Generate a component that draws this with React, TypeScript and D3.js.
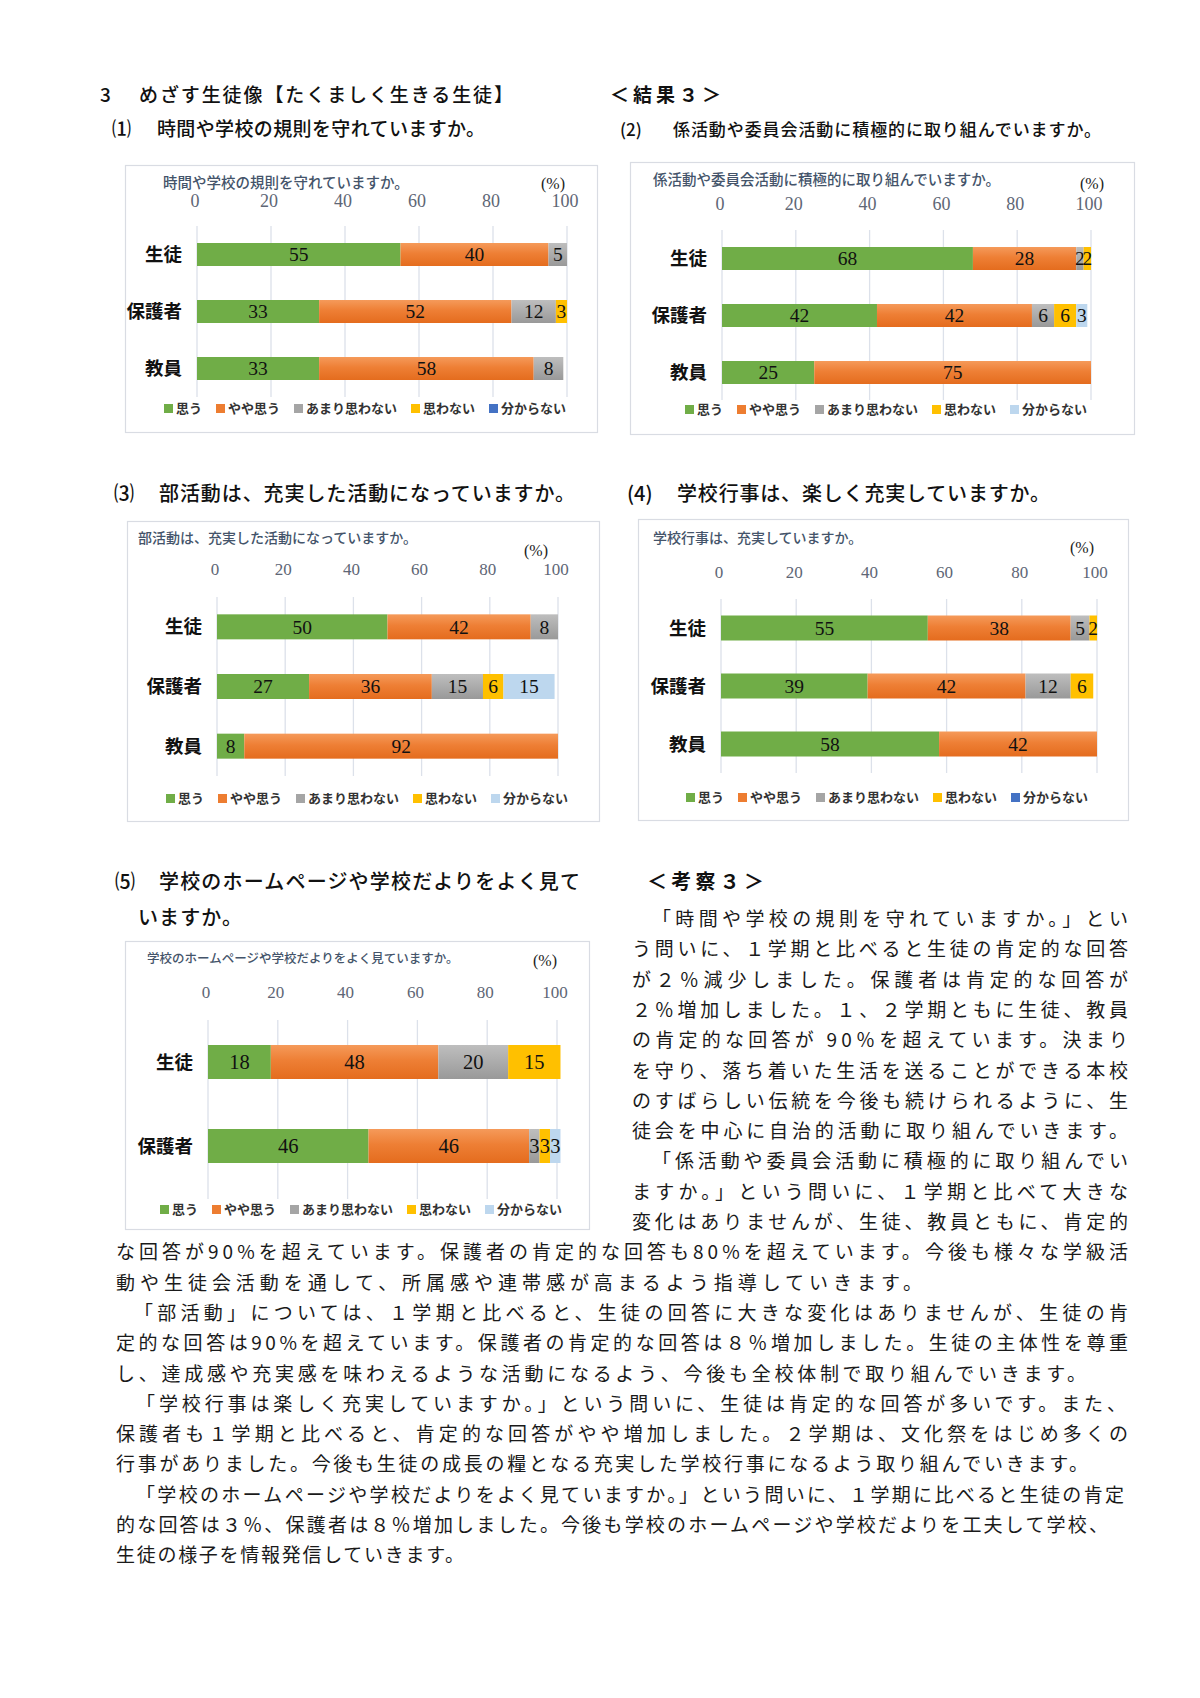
import React from "react";
import * as d3 from "d3";

const seriesNames = ["思う", "やや思う", "あまり思わない", "思わない", "分からない"];
const tickValues = [0, 20, 40, 60, 80, 100];
const groups3 = ["生徒", "保護者", "教員"];
const groups2 = ["生徒", "保護者"];

const q1Values = [[55, 40, 5, 0, 0], [33, 52, 12, 3, 0], [33, 58, 8, 0, 0]];
const q2Values = [[68, 28, 2, 2, 0], [42, 42, 6, 6, 3], [25, 75, 0, 0, 0]];
const q3Values = [[50, 42, 8, 0, 0], [27, 36, 15, 6, 15], [8, 92, 0, 0, 0]];
const q4Values = [[55, 38, 5, 2, 0], [39, 42, 12, 6, 0], [58, 42, 0, 0, 0]];
const q5Values = [[18, 48, 20, 15, 0], [46, 46, 3, 3, 3]];

const chartTitles = [
  "時間や学校の規則を守れていますか。",
  "係活動や委員会活動に積極的に取り組んでいますか。",
  "部活動は、充実した活動になっていますか。",
  "学校行事は、充実していますか。",
  "学校のホームページや学校だよりをよく見ていますか。",
];

const bodyLines = [
  "「時間や学校の規則を守れていますか。」とい",
  "う問いに、１学期と比べると生徒の肯定的な回答",
  "が２％減少しました。保護者は肯定的な回答が",
  "２％増加しました。１、２学期ともに生徒、教員",
  "の肯定的な回答が 90％を超えています。決まり",
  "を守り、落ち着いた生活を送ることができる本校",
  "のすばらしい伝統を今後も続けられるように、生",
  "徒会を中心に自治的活動に取り組んでいきます。",
  "「係活動や委員会活動に積極的に取り組んでい",
  "ますか。」という問いに、１学期と比べて大きな",
  "変化はありませんが、生徒、教員ともに、肯定的",
  "な回答が90%を超えています。保護者の肯定的な回答も80%を超えています。今後も様々な学級活",
  "動や生徒会活動を通して、所属感や連帯感が高まるよう指導していきます。",
  "「部活動」については、１学期と比べると、生徒の回答に大きな変化はありませんが、生徒の肯",
  "定的な回答は90%を超えています。保護者の肯定的な回答は８％増加しました。生徒の主体性を尊重",
  "し、達成感や充実感を味わえるような活動になるよう、今後も全校体制で取り組んでいきます。",
  "「学校行事は楽しく充実していますか。」という問いに、生徒は肯定的な回答が多いです。また、",
  "保護者も１学期と比べると、肯定的な回答がやや増加しました。２学期は、文化祭をはじめ多くの",
  "行事がありました。今後も生徒の成長の糧となる充実した学校行事になるよう取り組んでいきます。",
  "「学校のホームページや学校だよりをよく見ていますか。」という問いに、１学期に比べると生徒の肯定",
  "的な回答は３％、保護者は８％増加しました。今後も学校のホームページや学校だよりを工夫して学校、",
  "生徒の様子を情報発信していきます。",
];
// [startX, endX] per body line
const bodyExtents = [
  [652, 1128], [632, 1128], [632, 1128], [632, 1128], [632, 1128], [632, 1128],
  [632, 1128], [632, 1128], [652, 1128], [632, 1128], [632, 1128],
  [116, 1128], [116, 922], [134, 1128], [116, 1128], [116, 1086], [136, 1126],
  [116, 1128], [116, 1088], [136, 1124], [116, 1108], [116, 464],
];

const SANS = "'Noto Sans CJK JP', 'Noto Sans', sans-serif";
const SERIF = "'Liberation Serif', 'DejaVu Serif', serif";

const legendColors = ["#70AD47", "#ED7D31", "#A5A5A5", "#FFC000"];
const barFills = ["#70AD47", "url(#gOrange)", "url(#gGray)", "#FFC000"];

type Cfg = {
  box: [number, number, number, number];
  titleX: number; titleY: number; titleSize: number;
  pctX: number; pctY: number;
  x0: number; x100: number; tickY: number; tickSize: number;
  top: number; bottom: number; gridBottom: number; barH: number;
  catX: number; legendY: number; lastColor: string; labelSize: number;
};

const cfgs: Cfg[] = [
  { box: [125, 165, 472, 267], titleX: 163, titleY: 188, titleSize: 14.5, pctX: 541, pctY: 189,
    x0: 197, x100: 567, tickY: 207, tickSize: 18, top: 226, bottom: 397, gridBottom: 397, barH: 23,
    catX: 182, legendY: 413, lastColor: "#4472C4", labelSize: 19.5 },
  { box: [630, 162, 504, 272], titleX: 653, titleY: 185, titleSize: 14.5, pctX: 1080, pctY: 189,
    x0: 722, x100: 1091, tickY: 210, tickSize: 18, top: 230, bottom: 401, gridBottom: 400, barH: 23,
    catX: 707, legendY: 414, lastColor: "#BDD7EE", labelSize: 19.5 },
  { box: [127, 521, 472, 300], titleX: 138, titleY: 543, titleSize: 14, pctX: 524, pctY: 556,
    x0: 217, x100: 558, tickY: 575, tickSize: 17, top: 597, bottom: 776, gridBottom: 776, barH: 25,
    catX: 202, legendY: 803, lastColor: "#BDD7EE", labelSize: 19.5 },
  { box: [638, 519, 490, 301], titleX: 653, titleY: 543, titleSize: 14, pctX: 1070, pctY: 553,
    x0: 721, x100: 1097, tickY: 578, tickSize: 17, top: 599, bottom: 773, gridBottom: 773, barH: 25,
    catX: 706, legendY: 802, lastColor: "#4472C4", labelSize: 19.5 },
  { box: [125, 941, 464, 288], titleX: 147, titleY: 963, titleSize: 12.5, pctX: 533, pctY: 966,
    x0: 208, x100: 557, tickY: 998, tickSize: 17, top: 1020, bottom: 1188, gridBottom: 1199, barH: 34,
    catX: 193, legendY: 1214, lastColor: "#BDD7EE", labelSize: 20.5 },
];

function Chart({ cfg, values, groups, title }: { cfg: Cfg; values: number[][]; groups: string[]; title: string }) {
  const x = d3.scaleLinear().domain([0, 100]).range([cfg.x0, cfg.x100]);
  const step = (cfg.bottom - cfg.top) / groups.length;
  const p = 1 - cfg.barH / step;
  const y = d3.scaleBand<string>().domain(groups).range([cfg.top, cfg.bottom]).paddingInner(p).paddingOuter(p / 2);
  const rows = groups.map((g, i) => {
    const o: any = { group: g };
    seriesNames.forEach((s, j) => (o[s] = values[i][j]));
    return o;
  });
  const stacked = d3.stack<any>().keys(seriesNames)(rows);
  const fills = [...barFills, cfg.lastColor];
  const lcolors = [...legendColors, cfg.lastColor];
  const [bx, by, bw, bh] = cfg.box;

  const lf = 13;
  const sw = 9;
  const gap = 14;
  const widths = seriesNames.map((s) => sw + 3 + s.length * lf);
  const total = d3.sum(widths) + gap * (seriesNames.length - 1);
  let lx = bx + bw / 2 - total / 2 + 4;
  const legendItems = seriesNames.map((s, i) => {
    const item = { s, x: lx, c: lcolors[i] };
    lx += widths[i] + gap;
    return item;
  });

  return (
    <g>
      <rect x={bx + 0.5} y={by + 0.5} width={bw} height={bh} fill="#fff" stroke="#D9DCE3" strokeWidth={1.2} />
      <text x={cfg.titleX} y={cfg.titleY} fontFamily={SANS} fontSize={cfg.titleSize} fontWeight={500} fill="#44546A">
        {title}
      </text>
      <text x={cfg.pctX} y={cfg.pctY} fontFamily={SERIF} fontSize={16} fill="#222">(%)</text>
      {tickValues.map((t) => (
        <g key={t}>
          <line x1={x(t)} x2={x(t)} y1={cfg.top} y2={cfg.gridBottom} stroke="#DCE1EA" strokeWidth={1.3} />
          <text x={x(t) - 2} y={cfg.tickY} textAnchor="middle" fontFamily={SERIF} fontSize={cfg.tickSize} fill="#5E6675">
            {t}
          </text>
        </g>
      ))}
      {stacked.map((layer, si) =>
        layer.map((d, gi) => {
          const v = d[1] - d[0];
          if (v <= 0) return null;
          const g = groups[gi];
          const yy = y(g)!;
          return (
            <g key={si + "-" + gi}>
              <rect x={x(d[0])} y={yy} width={x(d[1]) - x(d[0])} height={y.bandwidth()} fill={fills[si]} />
              <text
                x={(x(d[0]) + x(d[1])) / 2}
                y={yy + y.bandwidth() / 2}
                dy="0.35em"
                textAnchor="middle"
                fontFamily={SERIF}
                fontSize={cfg.labelSize}
                fill="#111"
              >
                {v}
              </text>
            </g>
          );
        })
      )}
      {groups.map((g) => (
        <text key={g} x={cfg.catX} y={y(g)! + y.bandwidth() / 2} dy="0.36em" textAnchor="end"
          fontFamily={SANS} fontWeight={700} fontSize={18.5} fill="#111">
          {g}
        </text>
      ))}
      {legendItems.map((it) => (
        <g key={it.s}>
          <rect x={it.x} y={cfg.legendY - 9} width={sw} height={sw} fill={it.c} />
          <text x={it.x + sw + 3} y={cfg.legendY} fontFamily={SANS} fontWeight={700} fontSize={lf} fill="#333">
            {it.s}
          </text>
        </g>
      ))}
    </g>
  );
}

export default function App() {
  const heading = { fontFamily: SANS, fill: "#111", fontWeight: 500 } as const;
  return (
    <svg width={1200} height={1698} viewBox="0 0 1200 1698" style={{ position: "absolute", left: 0, top: 0, background: "#fff" }}>
      <defs>
        <linearGradient id="gOrange" x1="0" y1="0" x2="0" y2="1">
          <stop offset="0" stopColor="#F59A5A" />
          <stop offset="0.45" stopColor="#EE7F35" />
          <stop offset="1" stopColor="#E46C1E" />
        </linearGradient>
        <linearGradient id="gGray" x1="0" y1="0" x2="0" y2="1">
          <stop offset="0" stopColor="#BEBEBE" />
          <stop offset="1" stopColor="#999999" />
        </linearGradient>
      </defs>
      <rect x={0} y={0} width={1200} height={1698} fill="#fff" />

      <text x={100} y={102} {...heading} fontSize={19}>3</text>
      <text x={139} y={102} {...heading} fontSize={19} textLength={374} lengthAdjust="spacing">めざす生徒像【たくましく生きる生徒】</text>
      <text x={610} y={102} {...heading} fontSize={19} fontWeight={700} textLength={111} lengthAdjust="spacing">＜結果３＞</text>

      <text x={112} y={136} {...heading} fontSize={19}>⑴</text>
      <text x={157} y={136} {...heading} fontSize={19} textLength={328} lengthAdjust="spacing">{"時間や学校の規則を守れていますか。"}</text>
      <text x={620} y={136} {...heading} fontSize={17}>(2)</text>
      <text x={673} y={136} {...heading} fontSize={17} textLength={428} lengthAdjust="spacing">{"係活動や委員会活動に積極的に取り組んでいますか。"}</text>

      <text x={114} y={501} {...heading} fontSize={20}>⑶</text>
      <text x={159} y={501} {...heading} fontSize={20} textLength={416} lengthAdjust="spacing">{"部活動は、充実した活動になっていますか。"}</text>
      <text x={627} y={501} {...heading} fontSize={20}>(4)</text>
      <text x={677} y={501} {...heading} fontSize={20} textLength={373} lengthAdjust="spacing">{"学校行事は、楽しく充実していますか。"}</text>

      <text x={115} y={889} {...heading} fontSize={20}>⑸</text>
      <text x={159} y={889} {...heading} fontSize={20} textLength={421} lengthAdjust="spacing">{"学校のホームページや学校だよりをよく見て"}</text>
      <text x={138} y={925} {...heading} fontSize={20} textLength={104} lengthAdjust="spacing">{"いますか。"}</text>
      <text x={647} y={889} {...heading} fontSize={20} fontWeight={700} textLength={117} lengthAdjust="spacing">＜考察３＞</text>

      <Chart cfg={cfgs[0]} values={q1Values} groups={groups3} title={chartTitles[0]} />
      <Chart cfg={cfgs[1]} values={q2Values} groups={groups3} title={chartTitles[1]} />
      <Chart cfg={cfgs[2]} values={q3Values} groups={groups3} title={chartTitles[2]} />
      <Chart cfg={cfgs[3]} values={q4Values} groups={groups3} title={chartTitles[3]} />
      <Chart cfg={cfgs[4]} values={q5Values} groups={groups2} title={chartTitles[4]} />

      {bodyLines.map((line, i) => {
        const [sx, ex] = bodyExtents[i];
        return (
          <text key={i} x={sx} y={926 + i * 30.3} fontFamily={SANS} fontSize={19} fill="#1a1a1a"
            textLength={ex - sx} lengthAdjust="spacing">
            {line}
          </text>
        );
      })}
    </svg>
  );
}
